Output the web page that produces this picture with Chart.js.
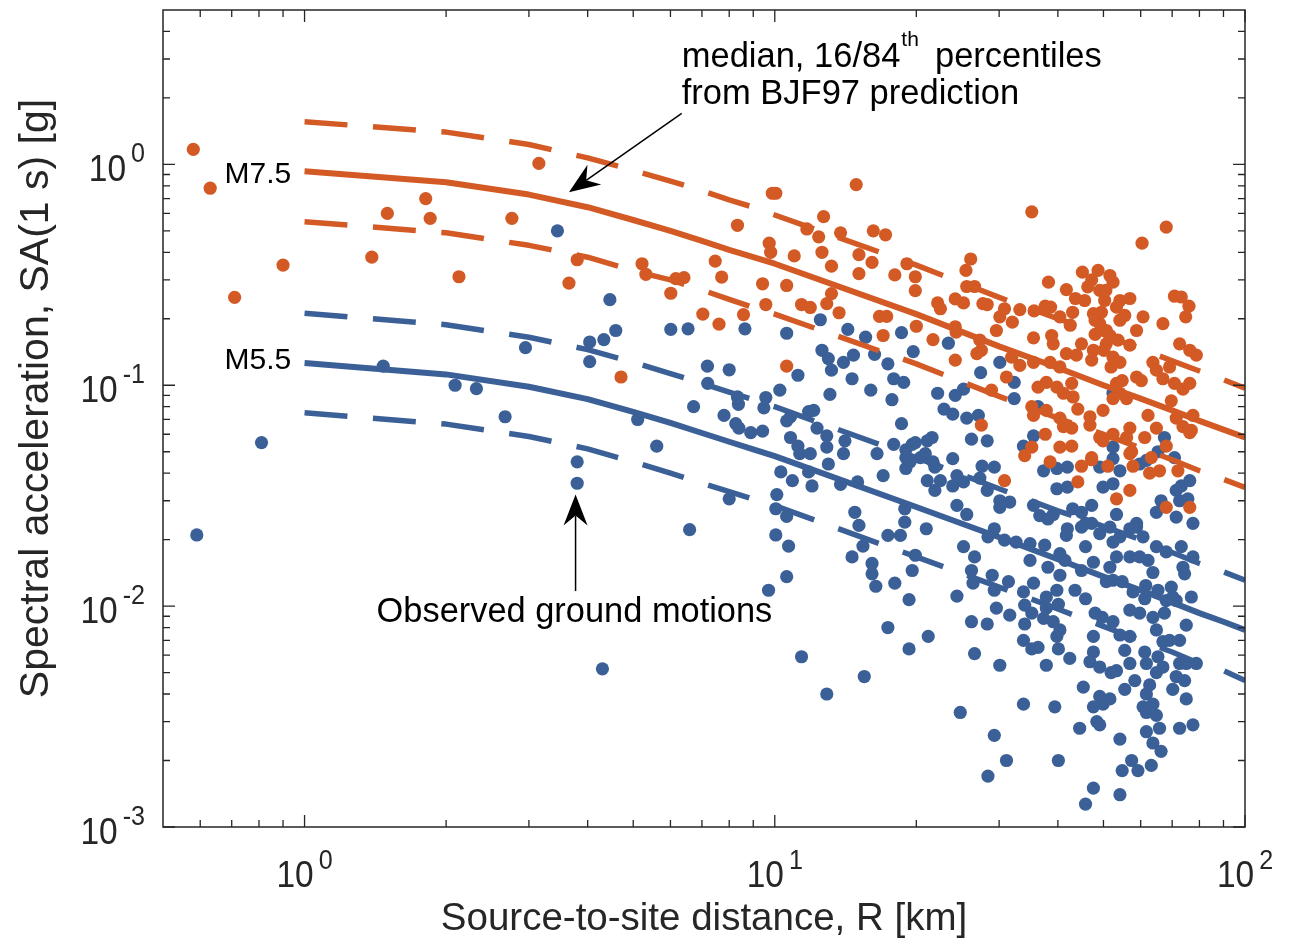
<!DOCTYPE html>
<html>
<head>
<meta charset="utf-8">
<script src="https://cdn.jsdelivr.net/npm/chart.js@4.4.1/dist/chart.umd.min.js"></script>
<style>
  html, body { margin: 0; padding: 0; background: #ffffff; }
  #wrap { width: 1296px; height: 939px; position: relative; }
</style>
</head>
<body>
<div id="wrap"><canvas id="chart"></canvas></div>
<script>
// ---------------- DATA ----------------
// BJF97 prediction curves (distance in km, SA in g)
const predDist   = [1,2,3,4,5,6,7,8,9,10,20,30,40,50,60,70,80,90,100];
const m75Median  = [0.93,0.83,0.73,0.64,0.56,0.50,0.45,0.41,0.38,0.355,0.21,0.15,0.12,0.10,0.087,0.077,0.069,0.063,0.058];
const m75Upper   = [1.56,1.40,1.23,1.07,0.94,0.84,0.76,0.69,0.64,0.59,0.35,0.25,0.20,0.17,0.146,0.129,0.116,0.106,0.097];
const m75Lower   = [0.55,0.49,0.43,0.38,0.33,0.30,0.27,0.245,0.225,0.21,0.125,0.089,0.071,0.060,0.052,0.046,0.041,0.0375,0.0345];
const m55Median  = [0.126,0.112,0.0985,0.0865,0.0757,0.0675,0.0608,0.0555,0.0513,0.0478,0.0281,0.0205,0.0163,0.0136,0.0118,0.0104,0.0093,0.0085,0.0078];
const m55Upper   = [0.212,0.188,0.165,0.145,0.127,0.113,0.102,0.093,0.086,0.080,0.047,0.034,0.027,0.023,0.020,0.0175,0.0156,0.0143,0.0131];
const m55Lower   = [0.075,0.0667,0.0586,0.0515,0.045,0.040,0.036,0.033,0.0305,0.0285,0.0167,0.0122,0.0097,0.0081,0.0070,0.0062,0.0055,0.0051,0.0046];

// Observed ground motions, large events (orange)
const m75ObsDist = [
  0.58,0.63,0.71,0.90,1.39,1.50,1.81,1.85,2.13,2.76,
  3.15,3.80,3.65,4.71,5.22,5.32,6.16,6.41,6.01,7.47,
  7.71,8.33,9.88,10.05,14.9,12.7,11.7,12.4,13.8,16.2,
  17.2,9.73,9.80,11.0,12.6,13.2,15.1,16.1,15.1,9.42,
  10.6,9.57,8.58,7.03,7.61,11.4,11.9,13.2,12.9,13.7,
  16.7,17.3,17.0,18.0,19.1,19.9,19.9,20.0,10.6,35.2,
  68.0,60.4,26.1,25.5,25.6,26.6,22.2,22.5,24.2,25.2,
  27.7,28.3,30.8,33.2,30.1,32.0,29.6,35.6,37.6,38.6,
  38.2,41.7,43.6,43.0,40.4,42.5,45.1,47.2,51.6,52.4,
  49.1,46.3,50.3,47.6,49.5,53.3,54.2,56.9,58.8,60.7,
  66.9,70.8,73.2,76.0,74.8,72.6,76.3,78.8,35.5,38.8,
  39.1,44.9,48.0,49.1,50.7,47.2,47.6,50.7,52.4,54.2,
  41.7,43.8,38.5,40.4,35.5,33.2,31.9,27.5,27.3,24.2,
  24.3,21.7,24.2,26.9,31.1,28.9,36.3,37.8,39.8,42.8,
  41.1,43.1,44.1,35.2,35.5,37.8,40.4,42.8,41.1,46.8,
  46.8,49.9,52.4,54.2,56.0,53.3,54.8,51.9,58.8,60.2,
  63.7,64.8,66.9,69.1,70.8,76.3,73.8,62.2,64.8,69.7,
  71.4,73.8,77.5,76.3,49.1,52.4,56.9,56.0,57.4,61.2,
  68.0,63.2,51.1,57.8,47.2,44.9,38.5,34.0,35.2,37.6,
  40.4,42.8,44.1,56.9,53.3,62.7,65.8,72.0,68.0,76.3,
  30.8,27.5,47.2,49.9,56.9,76.9,48.7,50.6,54.2,55.5,
  51.6,48.0,45.6,56.9,50.1,53.7];
const m75ObsSA = [
  1.17,0.78,0.25,0.35,0.38,0.60,0.70,0.57,0.31,0.57,
  1.01,0.37,0.29,0.109,0.355,0.318,0.304,0.307,0.261,0.365,
  0.309,0.53,0.74,0.74,0.81,0.58,0.51,0.47,0.49,0.50,
  0.48,0.44,0.40,0.385,0.40,0.346,0.39,0.36,0.32,0.288,
  0.283,0.232,0.209,0.21,0.189,0.232,0.225,0.26,0.234,0.213,
  0.205,0.205,0.168,0.316,0.355,0.31,0.268,0.185,0.122,0.61,
  0.52,0.44,0.373,0.331,0.28,0.28,0.236,0.222,0.246,0.236,
  0.234,0.232,0.222,0.22,0.204,0.193,0.177,0.217,0.228,0.226,
  0.293,0.271,0.247,0.214,0.204,0.187,0.325,0.30,0.314,0.293,
  0.269,0.279,0.242,0.211,0.214,0.226,0.197,0.247,0.177,0.204,
  0.19,0.253,0.251,0.228,0.204,0.154,0.144,0.137,0.164,0.168,
  0.154,0.154,0.17,0.19,0.177,0.13,0.144,0.154,0.134,0.127,
  0.139,0.137,0.127,0.121,0.127,0.123,0.134,0.144,0.16,0.184,
  0.174,0.161,0.13,0.139,0.109,0.095,0.098,0.103,0.098,0.102,
  0.092,0.0885,0.078,0.080,0.073,0.077,0.071,0.064,0.065,0.072,
  0.066,0.077,0.087,0.092,0.087,0.102,0.105,0.121,0.109,0.105,
  0.127,0.117,0.107,0.121,0.102,0.102,0.096,0.073,0.064,0.085,
  0.071,0.065,0.073,0.061,0.058,0.060,0.064,0.058,0.050,0.058,
  0.053,0.047,0.043,0.043,0.047,0.043,0.045,0.048,0.0525,0.060,
  0.0525,0.053,0.0365,0.0334,0.0306,0.040,0.041,0.041,0.028,0.028,
  0.037,0.066,0.046,0.056,0.049,0.0625,0.331,0.269,0.242,0.207,
  0.168,0.197,0.242,0.152,0.144,0.160];

// Observed ground motions, small events (blue)
const m55ObsDist = [
  0.59,0.81,1.47,2.09,2.32,2.67,2.95,4.04,4.04,3.80,
  3.80,3.45,4.46,4.33,4.59,6.01,6.54,8.64,10.6,12.5,
  7.19,8.0,7.2,8.33,9.57,9.48,10.25,11.2,12.6,13.0,
  13.2,14.0,14.7,14.6,14.3,15.6,16.3,17.4,17.9,18.8,
  18.6,19.7,16.0,17.75,13.1,6.72,5.11,5.61,7.80,8.26,
  8.39,8.89,9.42,8.37,10.8,11.8,12.1,12.3,12.9,12.9,
  10.8,11.2,11.3,11.9,13.0,14.1,14.0,16.5,17.9,18.6,
  19.6,19.0,19.0,20.9,21.1,17.0,10.3,10.9,12.0,13.8,
  15.0,10.1,8.0,10.6,10.05,10.05,10.7,10.6,9.7,11.4,
  12.9,15.5,17.4,19.3,19.3,18.0,16.4,16.1,16.1,15.4,
  14.6,14.8,15.1,17.4,18.5,18.9,19.6,19.9,21.0,21.2,
  11.8,10.6,18.9,21.1,23.4,22.2,24.2,25.2,22.9,23.9,
  25.6,27.1,26.2,28.3,27.4,30.1,32.3,32.3,21.6,19.0,
  20.4,21.7,23.9,21.9,22.5,24.4,25.2,23.9,21.9,27.6,
  29.3,27.3,28.3,30.1,31.6,30.1,25.6,24.4,35.5,33.8,
  37.3,39.8,41.9,39.8,41.9,35.5,39.1,43.0,47.2,49.1,
  52.4,52.4,54.2,52.4,49.9,59.7,65.3,67.4,70.8,71.4,
  76.3,72.6,64.8,66.3,58.8,53.3,45.8,77.5,52.4,36.3,
  19.9,19.4,25.2,26.6,26.2,26.4,24.4,28.4,29.3,30.8,
  32.6,34.9,29.0,29.3,31.4,29.6,31.6,33.8,34.0,35.2,
  34.0,35.5,26.2,28.3,26.6,30.1,33.8,35.2,36.3,37.8,
  39.8,40.4,40.1,42.4,37.3,39.1,37.8,40.1,39.8,37.8,
  36.6,38.1,40.4,38.1,41.7,44.9,41.9,44.9,47.2,49.1,
  45.8,47.6,44.9,45.8,48.0,49.7,47.6,47.6,46.8,49.1,
  51.9,53.3,50.7,51.6,52.4,54.8,53.3,51.6,54.2,52.4,
  56.9,58.8,60.7,64.8,56.9,59.7,62.2,63.7,61.5,57.8,
  61.2,65.3,69.7,68.0,70.2,71.4,56.9,59.7,63.7,67.4,
  52.4,54.2,56.9,64.8,66.9,69.1,72.6,75.0,76.9,73.8,
  74.4,77.5,73.2,68.0,55.5,56.9,61.2,61.7,65.3,66.9,
  64.8,72.6,75.0,78.8,71.4,74.4,70.2,75.0,62.7,61.7,
  60.7,63.7,61.7,64.8,61.7,65.8,63.7,66.3,63.2,57.4,
  54.8,59.2,54.2,45.3,49.1,49.9,47.6,48.4,44.5,49.1,
  47.6,45.8,54.2,40.1,39.4,33.8,29.3,31.1,28.4,24.8,
  72.6,77.5,73.2,75.6,71.4,61.7,4.30,6.59,37.5,41.4,
  43.5,40.4,34.9,55.5,58.3,51.6];
const m55ObsSA = [
  0.021,0.055,0.122,0.100,0.0965,0.072,0.148,0.157,0.128,0.045,
  0.036,0.50,0.244,0.161,0.177,0.179,0.18,0.18,0.172,0.198,
  0.122,0.1175,0.102,0.0885,0.088,0.079,0.095,0.111,0.144,0.132,
  0.117,0.127,0.137,0.107,0.179,0.165,0.138,0.125,0.107,0.103,
  0.173,0.142,0.095,0.086,0.091,0.080,0.070,0.053,0.073,0.067,
  0.064,0.061,0.062,0.082,0.072,0.076,0.077,0.064,0.059,0.0525,
  0.058,0.053,0.049,0.049,0.044,0.056,0.049,0.049,0.054,0.067,
  0.054,0.051,0.042,0.049,0.037,0.039,0.0405,0.037,0.035,0.0356,
  0.0365,0.032,0.0306,0.0255,0.0276,0.021,0.0187,0.0136,0.0118,0.0059,
  0.0040,0.0048,0.0080,0.0064,0.0107,0.0127,0.0123,0.014,0.0156,0.0187,
  0.0167,0.0266,0.0232,0.0209,0.0209,0.024,0.0145,0.017,0.0224,0.0073,
  0.0405,0.069,0.0276,0.056,0.155,0.092,0.090,0.096,0.078,0.074,
  0.071,0.073,0.057,0.056,0.114,0.127,0.103,0.087,0.058,0.047,
  0.047,0.045,0.0465,0.0426,0.037,0.039,0.0365,0.035,0.0334,0.043,
  0.0426,0.038,0.0334,0.030,0.0296,0.028,0.026,0.0286,0.059,0.053,
  0.041,0.042,0.0426,0.034,0.0346,0.0286,0.026,0.0276,0.0286,0.0426,
  0.0525,0.0465,0.041,0.0358,0.0346,0.044,0.050,0.058,0.047,0.0334,
  0.037,0.030,0.0266,0.030,0.0237,0.026,0.0237,0.0237,0.092,0.080,
  0.055,0.045,0.0186,0.0167,0.0145,0.0127,0.0111,0.0206,0.0224,0.0199,
  0.0195,0.0192,0.0138,0.0118,0.0129,0.0098,0.0091,0.0116,0.0101,0.0093,
  0.0083,0.0127,0.0085,0.0083,0.0061,0.0054,0.0070,0.0064,0.0065,0.0054,
  0.0073,0.0078,0.0064,0.0058,0.0088,0.0085,0.0098,0.0102,0.0118,0.011,
  0.0257,0.0248,0.0173,0.015,0.0209,0.0266,0.0224,0.0228,0.0237,0.0213,
  0.0186,0.0158,0.0145,0.0108,0.0093,0.0089,0.0073,0.0062,0.0056,0.0053,
  0.0050,0.0051,0.0129,0.015,0.0131,0.0129,0.0167,0.0228,0.0206,0.0195,
  0.0224,0.0228,0.0206,0.0186,0.0167,0.0167,0.0161,0.0142,0.0124,0.0116,
  0.0108,0.0118,0.0122,0.0106,0.011,0.0106,0.0096,0.0093,0.0089,0.0093,
  0.0085,0.0074,0.0073,0.0078,0.0069,0.0070,0.0070,0.0082,0.011,0.015,
  0.014,0.0167,0.0186,0.0176,0.0063,0.0055,0.0062,0.0055,0.0059,0.0053,
  0.0050,0.0055,0.0055,0.0055,0.0048,0.0046,0.0042,0.0038,0.0044,0.0040,
  0.0035,0.0036,0.0033,0.0032,0.0027,0.0028,0.0024,0.0022,0.0019,0.0020,
  0.0018,0.0018,0.0025,0.0043,0.0039,0.0036,0.0035,0.0030,0.0028,0.0029,
  0.0015,0.00127,0.0014,0.0020,0.0035,0.0036,0.0026,0.0020,0.0017,0.0033,
  0.0028,0.0029,0.035,0.0306,0.0253,0.0457,0.0052,0.0222,0.0189,0.0161,
  0.0118,0.0138,0.0161,0.0042,0.0046,0.0038];

// Axis ticks
const xMajorTicks = [1, 10, 100];
const xMajorExp   = ['0', '1', '2'];
const xMinorTicks = [0.6,0.7,0.8,0.9,2,3,4,5,6,7,8,9,20,30,40,50,60,70,80,90];
const yMajorTicks = [0.001, 0.01, 0.1, 1];
const yMajorExp   = ['-3', '-2', '-1', '0'];
const yMinorTicks = [0.002,0.003,0.004,0.005,0.006,0.007,0.008,0.009,
                     0.02,0.03,0.04,0.05,0.06,0.07,0.08,0.09,
                     0.2,0.3,0.4,0.5,0.6,0.7,0.8,0.9,2,3,4];

// Text
const xTitle = 'Source-to-site distance, R [km]';
const yTitle = 'Spectral acceleration, SA(1 s) [g]';
const noteLine1a = 'median, 16/84';
const noteLine1sup = 'th';
const noteLine1b = 'percentiles';
const noteLine2 = 'from BJF97 prediction';
const obsNote = 'Observed ground motions';
const labelLarge = 'M7.5';
const labelSmall = 'M5.5';

// ---------------- STYLE ----------------
const ORANGE = '#D35A24';
const BLUE = '#3A6097';
const AXIS = '#262626';
const FONT = '"Liberation Sans", Arial, Helvetica, sans-serif';

const pts = (xs, ys) => xs.map((v, i) => ({ x: v, y: ys[i] }));

function lineSet(ys, color, dashed, order) {
  return {
    data: pts(predDist, ys),
    showLine: true,
    borderColor: color,
    borderWidth: dashed ? 5.5 : 6,
    borderDash: dashed ? [43, 25.6] : [],
    borderCapStyle: 'butt',
    borderJoinStyle: 'round',
    pointRadius: 0,
    tension: 0,
    fill: false,
    order: order
  };
}
function scatterSet(xs, ys, color, order) {
  return {
    data: pts(xs, ys),
    showLine: false,
    pointRadius: 6.6,
    pointBorderWidth: 0,
    pointBackgroundColor: color,
    pointBorderColor: color,
    order: order
  };
}

function drawText(ctx, s, x, y, size, o) {
  o = o || {};
  ctx.save();
  ctx.font = size + 'px ' + FONT;
  ctx.fillStyle = o.color || AXIS;
  ctx.textAlign = o.align || 'left';
  ctx.textBaseline = 'alphabetic';
  ctx.translate(x, y);
  if (o.rot) ctx.rotate(o.rot);
  ctx.scale(o.sx || 1, 1);
  ctx.fillText(s, 0, 0);
  ctx.restore();
}
function textW(ctx, s, size, sx) {
  ctx.save();
  ctx.font = size + 'px ' + FONT;
  const w = ctx.measureText(s).width * (sx || 1);
  ctx.restore();
  return w;
}
function drawArrow(ctx, x0, y0, x1, y1) {
  const ang = Math.atan2(y1 - y0, x1 - x0);
  const L = 31, W = 12, N = 21;
  ctx.save();
  ctx.strokeStyle = '#000';
  ctx.fillStyle = '#000';
  ctx.lineWidth = 1.5;
  ctx.beginPath();
  ctx.moveTo(x0, y0);
  ctx.lineTo(x1 - Math.cos(ang) * N, y1 - Math.sin(ang) * N);
  ctx.stroke();
  ctx.translate(x1, y1);
  ctx.rotate(ang);
  ctx.beginPath();
  ctx.moveTo(0, 0);
  ctx.lineTo(-L, -W);
  ctx.lineTo(-N, 0);
  ctx.lineTo(-L, W);
  ctx.closePath();
  ctx.fill();
  ctx.restore();
}

const overlay = {
  id: 'overlay',
  afterDatasetsDraw(chart) {
    const ctx = chart.ctx;
    const a = chart.chartArea;
    const xs = chart.scales.x, ys = chart.scales.y;
    ctx.save();
    // ticks (inward, on all four sides)
    ctx.strokeStyle = AXIS;
    ctx.lineWidth = 1.3;
    ctx.beginPath();
    const xt = (v, len) => {
      const p = xs.getPixelForValue(v);
      ctx.moveTo(p, a.bottom); ctx.lineTo(p, a.bottom - len);
      ctx.moveTo(p, a.top); ctx.lineTo(p, a.top + len);
    };
    const yt = (v, len) => {
      const p = ys.getPixelForValue(v);
      ctx.moveTo(a.left, p); ctx.lineTo(a.left + len, p);
      ctx.moveTo(a.right, p); ctx.lineTo(a.right - len, p);
    };
    xMajorTicks.forEach(v => xt(v, 12));
    xMinorTicks.forEach(v => xt(v, 7));
    yMajorTicks.forEach(v => yt(v, 12));
    yMinorTicks.forEach(v => yt(v, 7));
    ctx.stroke();
    // frame
    ctx.lineWidth = 1.5;
    ctx.strokeRect(a.left, a.top, a.right - a.left, a.bottom - a.top);
    ctx.restore();

    // y tick labels
    const TS = 36, SS = 27, TSX = 0.93;
    yMajorTicks.forEach((v, i) => {
      const p = ys.getPixelForValue(v);
      const e = yMajorExp[i];
      const ws = textW(ctx, e, SS, TSX);
      const supX = a.left - 18 - ws;
      drawText(ctx, e, supX, p - 2.3, SS, { sx: TSX });
      drawText(ctx, '10', supX - 5, p + 16.7, TS, { align: 'right', sx: TSX });
    });
    // x tick labels
    xMajorTicks.forEach((v, i) => {
      const p = xs.getPixelForValue(v);
      const e = xMajorExp[i];
      const w10 = textW(ctx, '10', TS, TSX);
      const ws = textW(ctx, e, SS, TSX);
      const start = p - (w10 + 5 + ws) / 2;
      drawText(ctx, '10', start, a.bottom + 59.7, TS, { sx: TSX });
      drawText(ctx, e, start + w10 + 5, a.bottom + 42, SS, { sx: TSX });
    });
    // axis titles
    drawText(ctx, xTitle, (a.left + a.right) / 2, a.bottom + 103, 38.5, { align: 'center' });
    drawText(ctx, yTitle, 48.4, 398.5, 41, { align: 'center', rot: -Math.PI / 2 });

    // magnitude labels
    const X = v => xs.getPixelForValue(v);
    const Y = v => ys.getPixelForValue(v);
    drawText(ctx, labelLarge, X(0.937), Y(0.82), 30, { align: 'right', color: '#000' });
    drawText(ctx, labelSmall, X(0.937), Y(0.119), 30, { align: 'right', color: '#000' });

    // annotation: prediction note
    const NS = 34.5;
    const nx = X(6.34);
    const w1 = textW(ctx, noteLine1a, NS);
    drawText(ctx, noteLine1a, nx, Y(2.75), NS, { color: '#000' });
    drawText(ctx, noteLine1sup, nx + w1 + 1, Y(2.75) - 21, 21, { color: '#000' });
    drawText(ctx, noteLine1b, X(49.6), Y(2.75), NS, { align: 'right', color: '#000' });
    drawText(ctx, noteLine2, nx, Y(1.87), NS, { color: '#000' });
    drawArrow(ctx, X(6.34), Y(1.70), X(3.65), Y(0.747));

    // annotation: observed
    drawText(ctx, obsNote, X(1.423), Y(0.0085), 34.4, { color: '#000' });
    drawArrow(ctx, X(3.77), Y(0.0117), X(3.77), Y(0.032));
  }
};

new Chart(document.getElementById('chart').getContext('2d'), {
  type: 'scatter',
  data: {
    datasets: [
      lineSet(m75Median, ORANGE, false, 0),
      lineSet(m75Upper, ORANGE, true, 0),
      lineSet(m75Lower, ORANGE, true, 0),
      lineSet(m55Median, BLUE, false, 0),
      lineSet(m55Upper, BLUE, true, 0),
      lineSet(m55Lower, BLUE, true, 0),
      scatterSet(m75ObsDist, m75ObsSA, ORANGE, 1),
      scatterSet(m55ObsDist, m55ObsSA, BLUE, 2)
    ]
  },
  options: {
    responsive: true,
    maintainAspectRatio: false,
    animation: false,
    devicePixelRatio: 1,
    events: [],
    layout: { padding: { left: 163, right: 51, top: 10, bottom: 112 } },
    plugins: { legend: { display: false }, tooltip: { enabled: false } },
    scales: {
      x: { type: 'logarithmic', min: 0.5, max: 100, display: false },
      y: { type: 'logarithmic', min: 0.001, max: 5, display: false }
    }
  },
  plugins: [overlay]
});
</script>
</body>
</html>
